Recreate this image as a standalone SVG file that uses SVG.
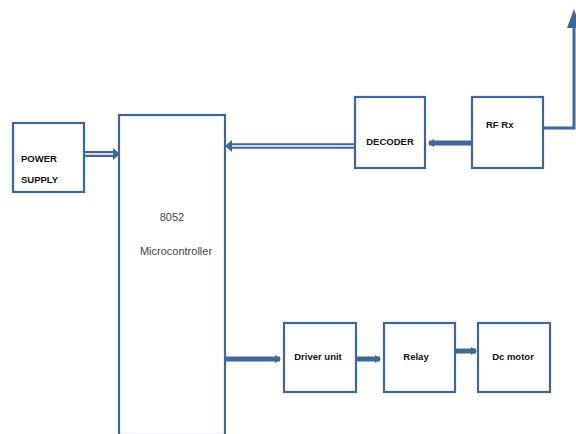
<svg xmlns="http://www.w3.org/2000/svg" width="576" height="434" viewBox="0 0 576 434">
<style>
.box{fill:#fff;stroke:#3f679c;stroke-width:2.2}
.lbl{font-family:"Liberation Sans",Arial,sans-serif;font-weight:bold;font-size:9.5px;fill:#111}
.reg{font-family:"Liberation Sans",Arial,sans-serif;font-size:11px;fill:#444}
.c{fill:none;stroke:#3f679c}
.hollow{fill:none;stroke:#fff;stroke-width:1.6}
</style>
<defs>
<marker id="ah" markerWidth="6" markerHeight="8" refX="5" refY="4" orient="auto" markerUnits="userSpaceOnUse">
<path d="M0,0 L6,4 L0,8 z" fill="#3f679c"/>
</marker>
</defs>
<rect width="576" height="434" fill="#fff"/>
<g id="connectors">
<line class="c" x1="85" y1="154" x2="116" y2="154" stroke-width="6"/>
<line class="hollow" x1="85" y1="154" x2="113" y2="154"/>
<path d="M113,148 L120,154 L113,160 z" fill="#3f679c"/>
<line class="c" x1="354" y1="146" x2="229" y2="146" stroke-width="5.5"/>
<line class="hollow" x1="354" y1="146" x2="232" y2="146"/>
<path d="M232,140 L225,146 L232,152 z" fill="#3f679c"/>
<line class="c" x1="472" y1="143" x2="429" y2="143" stroke-width="5" marker-end="url(#ah)"/>
<polyline class="c" points="543,128 574,128 574,26" stroke-width="3"/>
<path d="M574,9 L581,28 L567,28 z" fill="#3f679c"/>
<line class="c" x1="226" y1="359" x2="280" y2="359" stroke-width="5" marker-end="url(#ah)"/>
<line class="c" x1="357" y1="359" x2="380" y2="359" stroke-width="5" marker-end="url(#ah)"/>
<line class="c" x1="456" y1="351" x2="476" y2="351" stroke-width="5" marker-end="url(#ah)"/>
</g>
<g id="power">
<rect class="box" x="13" y="123" width="71" height="69"/>
<text class="lbl" x="21" y="162">POWER</text>
<text class="lbl" x="21" y="183">SUPPLY</text>
</g>
<g id="mcu">
<rect class="box" x="119" y="115" width="106" height="320"/>
<text class="reg" x="172" y="221" text-anchor="middle">8052</text>
<text class="reg" x="176" y="255" text-anchor="middle">Microcontroller</text>
</g>
<g id="decoder">
<rect class="box" x="355" y="97" width="70" height="71"/>
<text class="lbl" x="390" y="145" text-anchor="middle">DECODER</text>
</g>
<g id="rfrx">
<rect class="box" x="472" y="97" width="71" height="71"/>
<text class="lbl" x="486" y="128">RF Rx</text>
</g>
<g id="driver">
<rect class="box" x="284" y="323" width="72" height="69"/>
<text class="lbl" x="318" y="360" text-anchor="middle">Driver unit</text>
</g>
<g id="relay">
<rect class="box" x="384" y="323" width="71" height="69"/>
<text class="lbl" x="416" y="360" text-anchor="middle">Relay</text>
</g>
<g id="dcmotor">
<rect class="box" x="478" y="323" width="72" height="69"/>
<text class="lbl" x="513" y="360" text-anchor="middle">Dc motor</text>
</g>
</svg>
